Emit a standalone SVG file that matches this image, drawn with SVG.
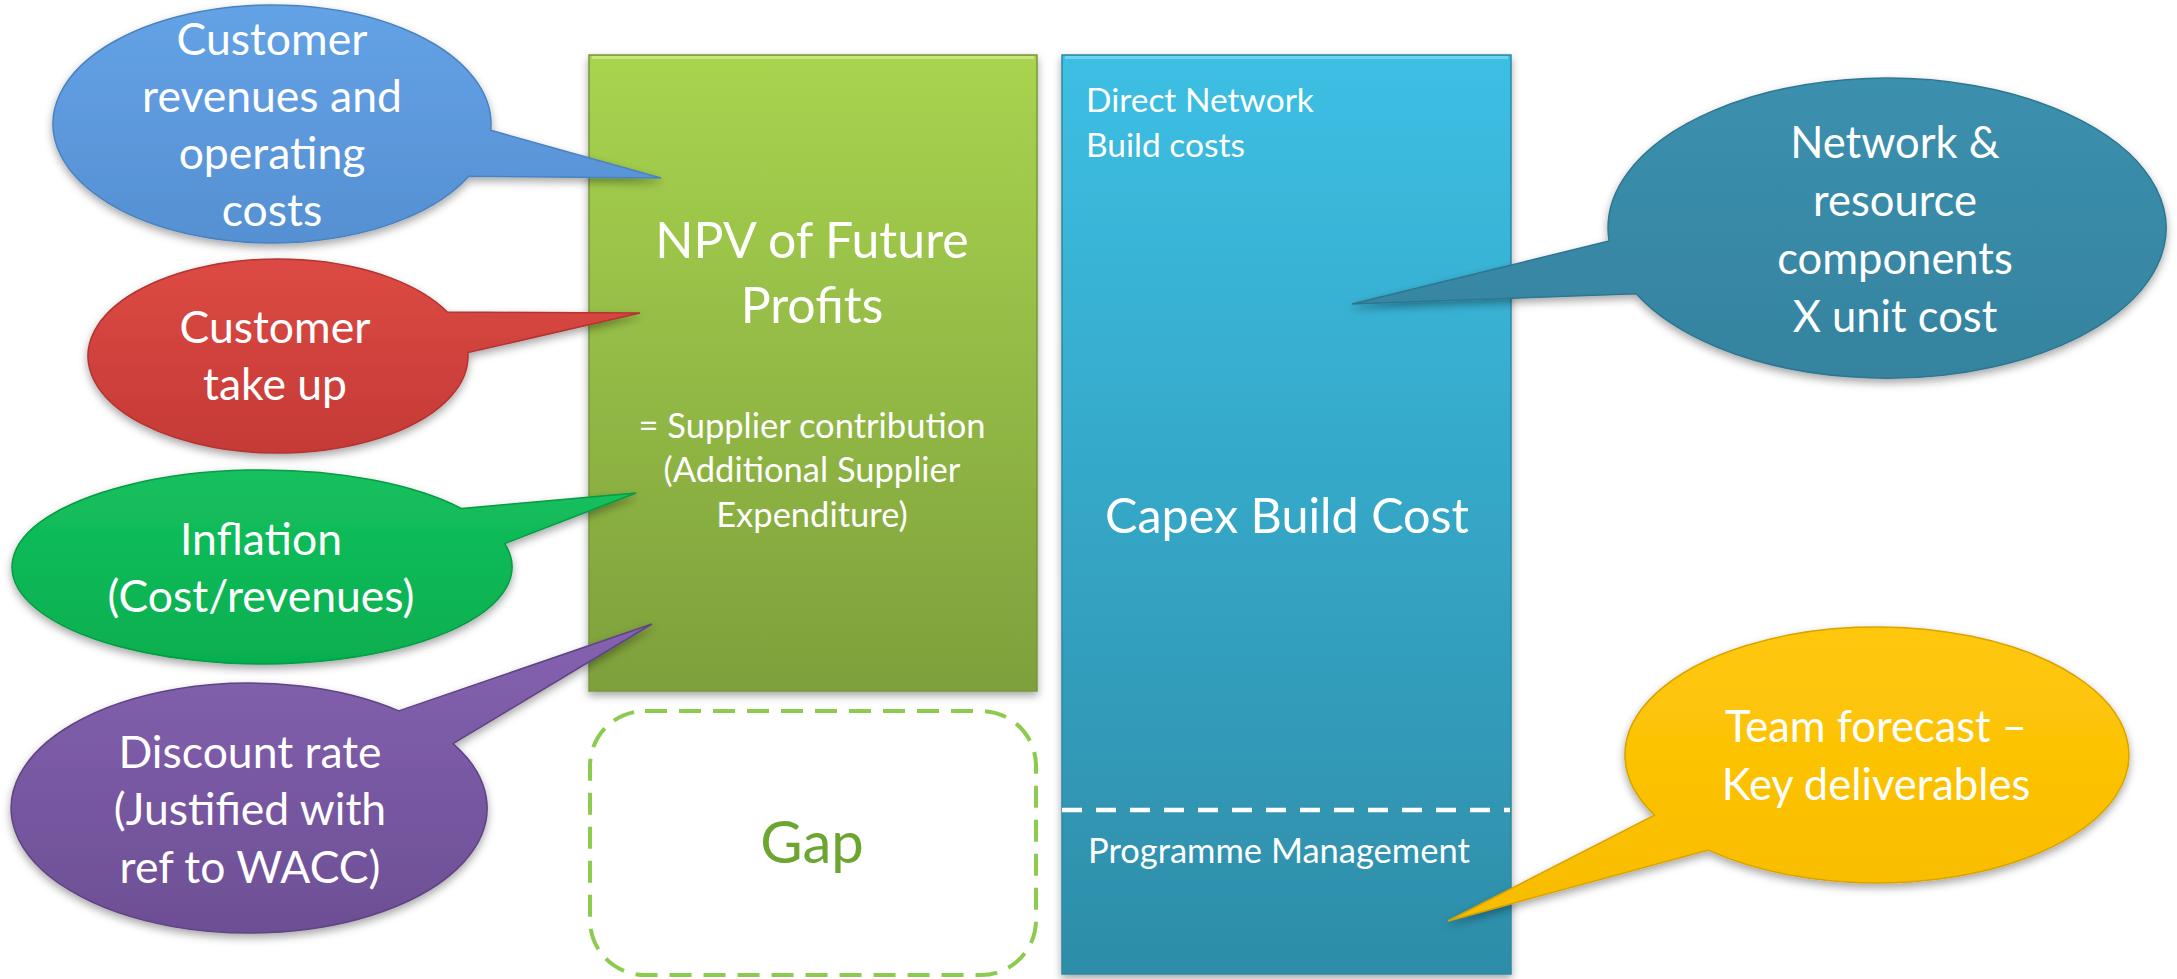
<svg xmlns="http://www.w3.org/2000/svg" width="2177" height="979" viewBox="0 0 2177 979">
<defs>
<filter id="sh" x="-10%" y="-10%" width="120%" height="125%">
<feDropShadow dx="0" dy="4" stdDeviation="4" flood-color="#000" flood-opacity="0.35"/>
</filter>
<linearGradient id="gGreenRect" x1="0" y1="0" x2="0" y2="1">
<stop offset="0" stop-color="#A8D44F"/><stop offset="1" stop-color="#7EA03C"/>
</linearGradient>
<linearGradient id="gBlueRect" x1="0" y1="0" x2="0" y2="1">
<stop offset="0" stop-color="#3CBFE4"/><stop offset="1" stop-color="#2E8DA8"/>
</linearGradient>
<linearGradient id="gBlue" x1="0" y1="0" x2="0" y2="1">
<stop offset="0" stop-color="#64A2E6"/><stop offset="1" stop-color="#5590D2"/>
</linearGradient>
<linearGradient id="gRed" x1="0" y1="0" x2="0" y2="1">
<stop offset="0" stop-color="#DC4A44"/><stop offset="1" stop-color="#C53A36"/>
</linearGradient>
<linearGradient id="gGreen" x1="0" y1="0" x2="0" y2="1">
<stop offset="0" stop-color="#16C05E"/><stop offset="1" stop-color="#06AF4F"/>
</linearGradient>
<linearGradient id="gPurple" x1="0" y1="0" x2="0" y2="1">
<stop offset="0" stop-color="#8562B0"/><stop offset="1" stop-color="#6D4F95"/>
</linearGradient>
<linearGradient id="gTeal" x1="0" y1="0" x2="0" y2="1">
<stop offset="0" stop-color="#3B90AE"/><stop offset="1" stop-color="#35839F"/>
</linearGradient>
<linearGradient id="gYellow" x1="0" y1="0" x2="0" y2="1">
<stop offset="0" stop-color="#FFC80A"/><stop offset="1" stop-color="#F8BC00"/>
</linearGradient>
</defs>
<style>
text { font-family: Lato, "Liberation Sans", sans-serif; fill: #FFFFFF; }
.call { font-size: 44.5px; text-anchor: middle; }
.callr { font-size: 43.5px; text-anchor: middle; }
.mid { text-anchor: middle; }
.bubble { stroke-width: 1.5; filter: url(#sh); }
</style>

<g id="npv-box">
<rect x="589" y="55" width="448" height="636" fill="url(#gGreenRect)" stroke="#76963A" stroke-width="1.5" filter="url(#sh)"/>
<line x1="592" y1="57.5" x2="1034" y2="57.5" stroke="#C6E57A" stroke-width="3"/>
<text class="mid" x="812" y="258" font-size="50">NPV of Future</text>
<text class="mid" x="812" y="323" font-size="50">Profits</text>
<text class="mid" x="812" y="438" font-size="34.5">= Supplier contribution</text>
<text class="mid" x="812" y="482" font-size="34.5">(Additional Supplier</text>
<text class="mid" x="812" y="527" font-size="34.5">Expenditure)</text>
</g>

<g id="gap-box">
<rect x="590" y="711" width="446" height="264" rx="55" ry="55" fill="none" stroke="#8DCB4E" stroke-width="4" stroke-dasharray="22 12"/>
<text class="mid" x="812" y="863" font-size="58" style="fill:#6CA631">Gap</text>
</g>

<g id="capex-box">
<rect x="1062" y="55" width="449" height="919" fill="url(#gBlueRect)" stroke="#2B89A3" stroke-width="1.5" filter="url(#sh)"/>
<line x1="1065" y1="57.5" x2="1508" y2="57.5" stroke="#6FD3EE" stroke-width="3"/>
<text x="1086" y="112" font-size="33.5">Direct Network</text>
<text x="1086" y="157" font-size="33.5">Build costs</text>
<text class="mid" x="1287" y="533" font-size="48.5">Capex Build Cost</text>
<line x1="1062" y1="810" x2="1510" y2="810" stroke="#FFFFFF" stroke-width="4.5" stroke-dasharray="20 14"/>
<text x="1088" y="863" font-size="34.5">Programme Management</text>
</g>

<g id="connectors">
<path id="tail-revenues" class="bubble" d="M490.7,130.2 L661,178 L468.8,176.2 A219 119 0 1 1 490.7,130.2 Z" fill="url(#gBlue)" stroke="#4A82C0"/>
<path id="tail-takeup" class="bubble" d="M447.3,312 L640,313 L467.9,352.6 A190 97 0 1 1 447.3,312 Z" fill="url(#gRed)" stroke="#B23430"/>
<path id="tail-inflation" class="bubble" d="M461.7,508.6 L636,493 L504.6,543.5 A250 97 0 1 1 461.7,508.6 Z" fill="url(#gGreen)" stroke="#079A45"/>
<path id="tail-discount" class="bubble" d="M398.8,710.9 L652,624 L453,743.6 A238 125 0 1 1 398.8,710.9 Z" fill="url(#gPurple)" stroke="#5E4483"/>
<path id="tail-network" class="bubble" d="M1609.1,241.1 L1352,304 L1636.2,293.8 A279 150 0 1 0 1609.1,241.1 Z" fill="url(#gTeal)" stroke="#2F7690"/>
<path id="tail-team" class="bubble" d="M1654.5,815.1 L1448,921 L1708.4,850.1 A252 128 0 1 0 1654.5,815.1 Z" fill="url(#gYellow)" stroke="#D9A300"/>
</g>

<g id="callout-revenues">
<text class="call" x="272" y="55">Customer</text>
<text class="call" x="272" y="112">revenues and</text>
<text class="call" x="272" y="169">operating</text>
<text class="call" x="272" y="226">costs</text>
</g>
<g id="callout-takeup">
<text class="call" x="275" y="343">Customer</text>
<text class="call" x="275" y="400">take up</text>
</g>
<g id="callout-inflation">
<text class="call" x="261" y="555">Inflation</text>
<text class="call" x="261" y="612">(Cost/revenues)</text>
</g>
<g id="callout-discount">
<text class="call" x="250" y="768">Discount rate</text>
<text class="call" x="250" y="825">(Justified with</text>
<text class="call" x="250" y="883">ref to WACC)</text>
</g>
<g id="callout-network">
<text class="callr" x="1895" y="158">Network &amp;</text>
<text class="callr" x="1895" y="216">resource</text>
<text class="callr" x="1895" y="274">components</text>
<text class="callr" x="1895" y="332">X unit cost</text>
</g>
<g id="callout-team">
<text class="callr" x="1876" y="742">Team forecast –</text>
<text class="callr" x="1876" y="800">Key deliverables</text>
</g>
</svg>
